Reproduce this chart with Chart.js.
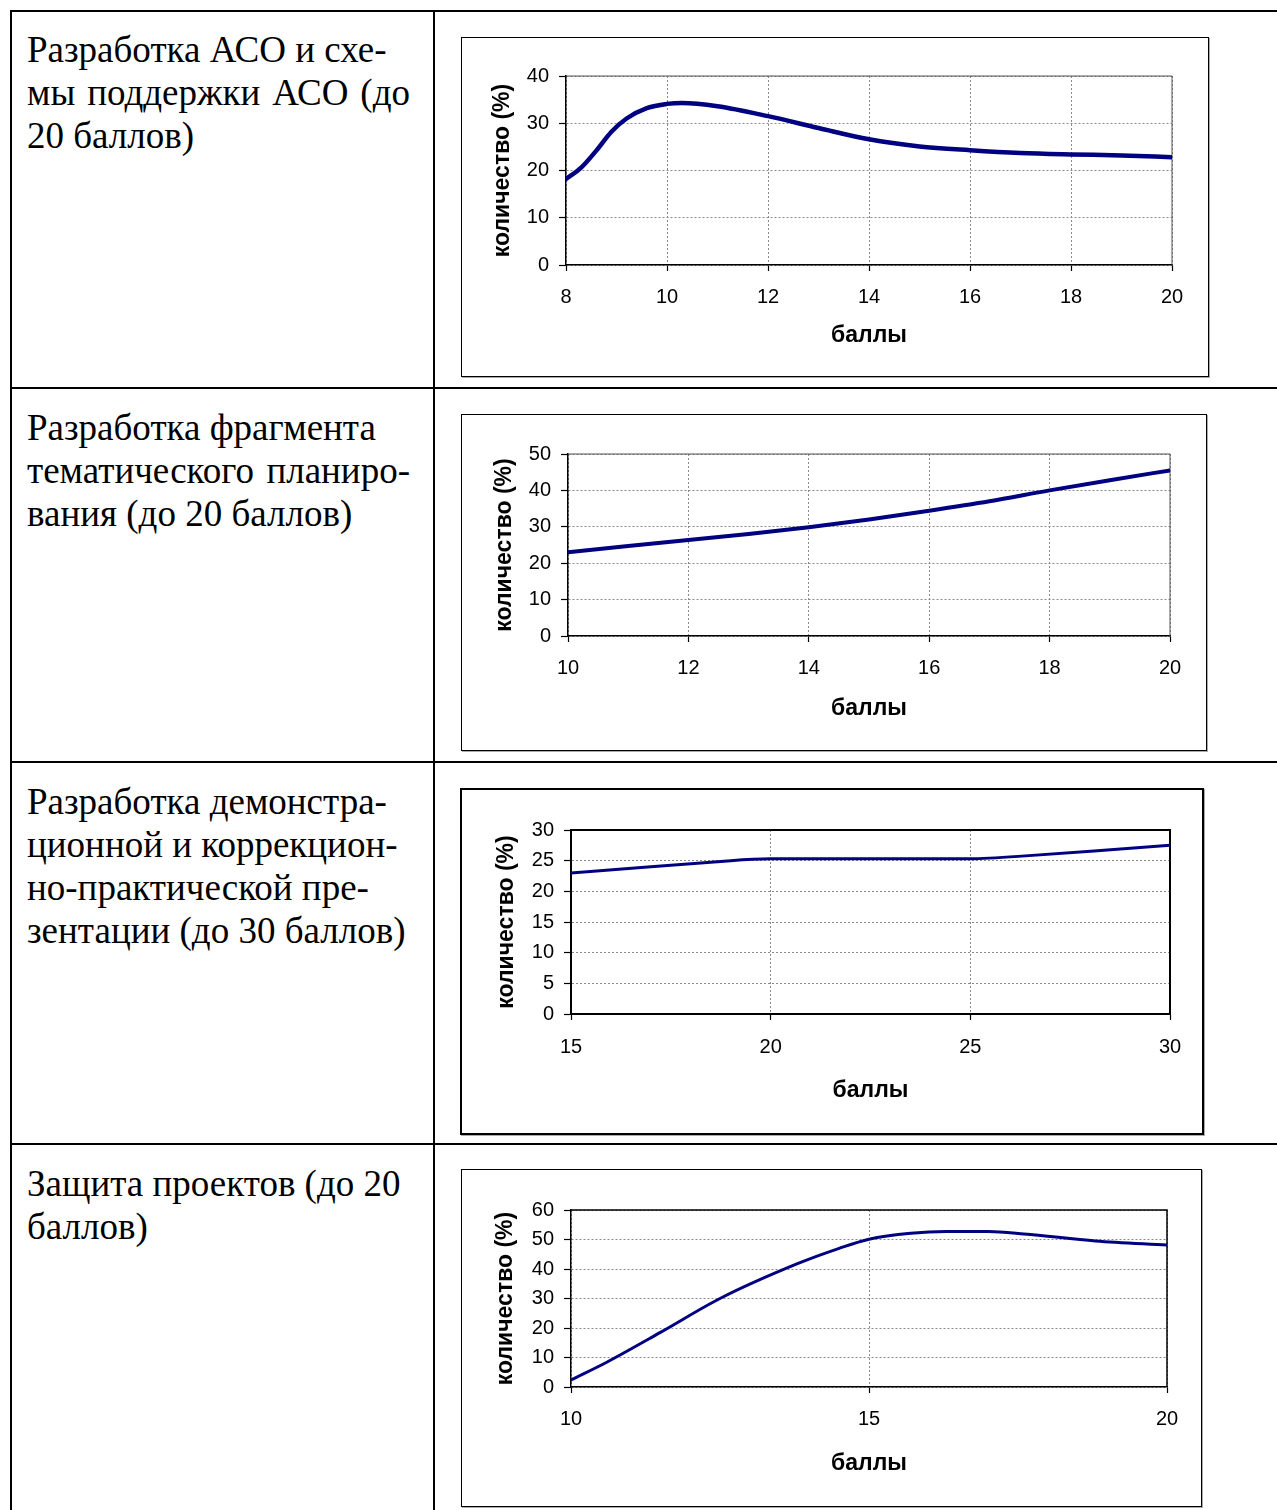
<!DOCTYPE html>
<html><head><meta charset="utf-8">
<script src="https://cdn.jsdelivr.net/npm/chart.js@4.4.0/dist/chart.umd.min.js"></script>
<style>
html,body{margin:0;padding:0;background:#fff;}
body{width:1277px;height:1510px;position:relative;overflow:hidden;}
.hl{position:absolute;left:10px;width:1267px;height:2px;background:#000;}
.vl{position:absolute;top:10px;width:2px;height:1500px;background:#000;}
.txt{position:absolute;left:27px;font-family:"Liberation Serif","Times New Roman",serif;font-size:37px;line-height:43px;color:#000;}
.txt div{white-space:nowrap;}
.txt div.j{width:383px;text-align:justify;text-align-last:justify;}
.box{position:absolute;border:1px solid #000;box-sizing:border-box;box-shadow:1px 1px 0 #aaa;background:#fff;}
.box canvas{display:block;}
</style></head>
<body>
<div class="hl" style="top:10px"></div>
<div class="hl" style="top:387px"></div>
<div class="hl" style="top:761px"></div>
<div class="hl" style="top:1143px"></div>
<div class="vl" style="left:10px"></div>
<div class="vl" style="left:433px"></div>

<div class="txt" style="top:28px">
<div>Разработка АСО и схе-</div>
<div class="j">мы поддержки АСО (до</div>
<div>20 баллов)</div>
</div>
<div class="txt" style="top:406px">
<div>Разработка фрагмента</div>
<div class="j">тематического планиро-</div>
<div>вания (до 20 баллов)</div>
</div>
<div class="txt" style="top:780px">
<div>Разработка демонстра-</div>
<div>ционной и коррекцион-</div>
<div>но-практической пре-</div>
<div>зентации (до 30 баллов)</div>
</div>
<div class="txt" style="top:1162px">
<div>Защита проектов (до 20</div>
<div>баллов)</div>
</div>

<div class="box" id="b1"><canvas id="c1"></canvas></div>
<div class="box" id="b2"><canvas id="c2"></canvas></div>
<div class="box" id="b3"><canvas id="c3"></canvas></div>
<div class="box" id="b4"><canvas id="c4"></canvas></div>

<script>
// ---- data ----
const xTitle = "баллы";
const yTitle = "количество (%)";

const aso_x = [8, 8.3, 8.6, 8.9, 9.2, 9.6, 10, 10.3, 11, 12, 13, 14, 15, 16, 17, 18, 19, 20];
const aso_y = [18.2, 20.6, 24.2, 28.2, 31, 33.2, 34.1, 34.3, 33.6, 31.5, 29, 26.6, 25.1, 24.3, 23.7, 23.4, 23.2, 22.8];

const plan_x = [10, 11, 12, 13, 14, 15, 16, 17, 18, 19, 20];
const plan_y = [23, 24.7, 26.4, 28, 29.9, 32, 34.4, 37, 40, 42.8, 45.5];

const pres_x = [15, 19, 20, 25, 26.2, 30];
const pres_y = [23, 25, 25.3, 25.3, 25.7, 27.5];

const def_x = [10, 10.6, 11.5, 12.5, 13.8, 14.5, 15, 15.7, 16.3, 17, 17.6, 18.8, 20];
const def_y = [2.4, 8.4, 18.5, 30, 41.8, 47, 50.1, 52.1, 52.7, 52.7, 51.9, 49.5, 48.1];

// axis ranges [min, max, step]
const aso_xr = [8, 20, 2],  aso_yr = [0, 40, 10];
const plan_xr = [10, 20, 2], plan_yr = [0, 50, 10];
const pres_xr = [15, 30, 5], pres_yr = [0, 30, 5];
const def_xr = [10, 20, 5],  def_yr = [0, 60, 10];

function pts(xs, ys){ return xs.map((x,i)=>({x:x, y:ys[i]})); }

function makeChart(cid, bid, g){
  const bw = g.bw;
  const box = document.getElementById(bid);
  box.style.left = g.box[0]+'px';
  box.style.top = g.box[1]+'px';
  box.style.width = (g.box[2]-g.box[0]+1)+'px';
  box.style.height = (g.box[3]-g.box[1]+1)+'px';
  box.style.borderWidth = bw+'px';
  const cl = g.box[0]+bw, ct = g.box[1]+bw;
  const cw = g.box[2]-g.box[0]+1-2*bw, ch = g.box[3]-g.box[1]+1-2*bw;
  const cv = document.getElementById(cid);
  cv.width = cw; cv.height = ch;
  cv.style.width = cw+'px'; cv.style.height = ch+'px';
  const yW = g.plot[0]-cl;
  const padR = cl+cw-g.plot[2];
  const padT = g.plot[1]-ct;
  const xH = ct+ch-g.plot[3];
  const tickFont = {family:'"Liberation Sans", Arial, sans-serif', size:20};
  const tsz = 23;
  const titleFont = {family:'"Liberation Sans", Arial, sans-serif', size:tsz, weight:'bold'};
  const lh = tsz*1.2;
  const yTitlePad = (g.yt - cl) - lh/2;
  const xTitlePad = (ct+ch - g.xt) - lh/2;
  const outline = {
    id:'outline',
    beforeDatasetsDraw(chart){
      const a = chart.chartArea, c = chart.ctx;
      c.save();
      c.strokeStyle = g.oc; c.lineWidth = g.ow;
      c.beginPath();
      c.moveTo(a.left, a.top); c.lineTo(a.right, a.top); c.lineTo(a.right, a.bottom);
      c.stroke();
      c.restore();
    }
  };
  new Chart(cv, {
    type:'line',
    data:{datasets:[{
      data: pts(g.xs, g.ys),
      borderColor:'#000080',
      borderWidth:g.lw,
      pointRadius:0,
      fill:false,
      cubicInterpolationMode: g.mono ? 'monotone' : 'default',
      tension: g.tension,
      borderCapStyle:'round',
      borderJoinStyle:'round'
    }]},
    plugins:[outline],
    options:{
      responsive:false,
      animation:false,
      devicePixelRatio:1,
      layout:{padding:{left:0, right:padR, top:padT, bottom:0}},
      plugins:{legend:{display:false}, tooltip:{enabled:false}},
      scales:{
        x:{
          type:'linear', min:g.xr[0], max:g.xr[1],
          afterFit(s){ s.height = xH; },
          ticks:{stepSize:g.xr[2], font:tickFont, color:'#000', padding:g.xtp, maxRotation:0, autoSkip:false},
          grid:{color:'#8a8a8a', lineWidth:1, tickLength:6, tickColor:'#000', tickWidth:1.2, tickBorderDash:[]},
          border:{display:true, color:'#000', width:g.aw, dash:[2,2]},
          title:{display:true, text:xTitle, font:titleFont, color:'#000', padding:{top:0, bottom:xTitlePad}}
        },
        y:{
          type:'linear', min:g.yr[0], max:g.yr[1],
          afterFit(s){ s.width = yW; },
          ticks:{stepSize:g.yr[2], font:tickFont, color:'#000', padding:10},
          grid:{color:'#8a8a8a', lineWidth:1, tickLength:7, tickColor:'#000', tickWidth:1.2, tickBorderDash:[]},
          border:{display:true, color:'#000', width:g.aw, dash:[2,2]},
          title:{display:true, text:yTitle, font:titleFont, color:'#000', padding:{top:yTitlePad, bottom:0}}
        }
      }
    }
  });
}

makeChart('c1','b1',{box:[461,37,1208,376], plot:[566,76,1172,265], bw:1, xs:aso_x, ys:aso_y, xr:aso_xr, yr:aso_yr,
  lw:4.5, mono:true, tension:0.4, yt:503, xt:336, xtp:14, oc:'#555', ow:1, aw:1.5});
makeChart('c2','b2',{box:[461,414,1206,750], plot:[568,454,1170,636], bw:1, xs:plan_x, ys:plan_y, xr:plan_xr, yr:plan_yr,
  lw:4, mono:true, tension:0.4, yt:505, xt:709, xtp:14, oc:'#555', ow:1, aw:1.5});
makeChart('c3','b3',{box:[460,788,1203,1134], plot:[571,830,1170,1014], bw:2, xs:pres_x, ys:pres_y, xr:pres_xr, yr:pres_yr,
  lw:3, mono:false, tension:0.15, yt:507, xt:1091, xtp:15, oc:'#000', ow:2, aw:2});
makeChart('c4','b4',{box:[461,1169,1201,1506], plot:[571,1210,1167,1387], bw:1, xs:def_x, ys:def_y, xr:def_xr, yr:def_yr,
  lw:3, mono:true, tension:0.4, yt:506, xt:1464, xtp:14, oc:'#000', ow:1.5, aw:1.5});
</script>
</body></html>
